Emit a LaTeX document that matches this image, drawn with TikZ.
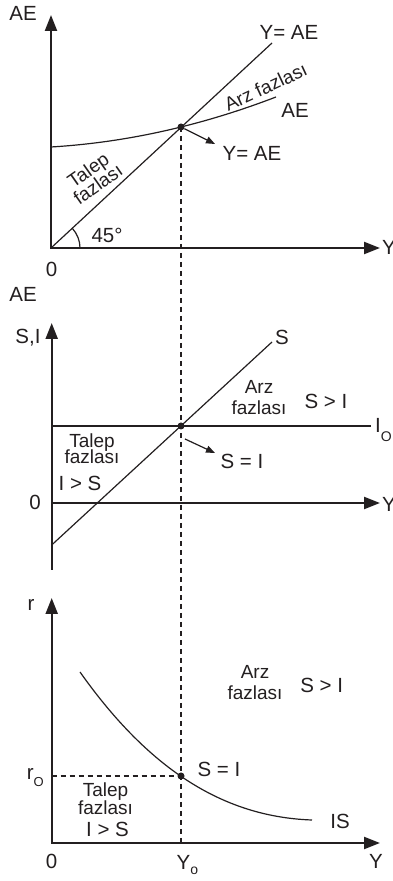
\documentclass[tikz,border=0pt]{standalone}
\usepackage{fontspec}
\setmainfont{Liberation Sans}
\usetikzlibrary{arrows.meta, positioning}
\definecolor{inkblack}{RGB}{35,31,32}
\setlength{\lineskiplimit}{-20pt}
\tikzset{
  axes/.style={{Triangle[length=16pt,width=12pt]}-{Triangle[length=16pt,width=12pt]},
    line width=2.2pt, color=inkblack},
  axis/.style={-{Triangle[length=16pt,width=12pt]}, line width=2.2pt, color=inkblack},
  curve/.style={line width=1.2pt, color=inkblack},
  level/.style={line width=1.8pt, color=inkblack},
  guide/.style={dash pattern=on 5pt off 4pt, line width=1.2pt, color=inkblack},
  pointer/.style={-{Triangle[length=9pt,width=7pt]}, line width=1.2pt, color=inkblack},
  eqdot/.style={circle, fill=inkblack, inner sep=0pt, minimum size=7pt},
  lbl/.style={inner sep=0pt, text=inkblack, font=\fontsize{20.5}{22}\selectfont},
  note/.style={inner sep=0pt, text=inkblack, align=center, font=\fontsize{19}{18}\selectfont}
}

\begin{document}
\begin{tikzpicture}[x=1pt, y=1pt]
  \useasboundingbox (0,0) rectangle (393,881);

  % Top panel: AE against Y
  \coordinate (O1) at (51,633);
  \coordinate (ae_tip) at (51,866);
  \coordinate (y1_tip) at (380,633);
  \draw[axes] (ae_tip) -- (O1) -- (y1_tip);
  \node[lbl] (ae1) at (23,868) {AE};
  \node[lbl, anchor=west] (y1) at (382,634) {Y};
  \node[lbl] (zero1) at (51.5,612) {0};

  % 45 degree line and AE curve
  \node[eqdot] (E1) at (181,754) {};
  \coordinate (l45_end) at (272,838);
  \coordinate (ae_start) at (51,734);
  \coordinate (ae_end) at (276,784);
  \draw[curve] (O1) -- (l45_end);
  \draw[curve] (ae_start) .. controls (126,738.5) and (201,755.2) .. (ae_end);
  \draw[curve] ([xshift=29pt]O1) arc[start angle=0, end angle=42.6, radius=29pt];
  \node[lbl] (deg) at (107,646) {45°};

  \node[lbl] (yae_top) at (289,849) {Y= AE};
  \node[lbl] (ae_curve) at (295,771) {AE};
  \node[note, rotate=25] (arz1) at (265.7,794) {Arz fazlası};
  \node[note, rotate=35, font=\fontsize{19}{17}\selectfont] (talep1) at (93,704) {Talep\\fazlası};

  \coordinate (tip1) at (215,737);
  \draw[pointer] (E1) -- (tip1);
  \node[lbl] (yae_mid) at (252,728) {Y= AE};

  % Middle panel: S and I against Y
  \node[lbl] (ae2) at (23,587) {AE};
  \coordinate (O2) at (51.7,378);
  \coordinate (si_low) at (51.7,311);
  \coordinate (si_tip) at (51.7,558);
  \coordinate (y2_tip) at (380,378);
  \draw[axis] (si_low) -- (si_tip);
  \draw[axis] (O2) -- (y2_tip);
  \node[lbl, anchor=base] (si) at (28,537) {S,I};
  \node[lbl] (zero2) at (35,378.5) {0};
  \node[lbl, anchor=west] (y2) at (382,377) {Y};

  \node[eqdot] (E2) at (181,455) {};
  \coordinate (io_start) at (51.7,455);
  \coordinate (io_end) at (371,455);
  \draw[level] (io_start) -- (io_end);
  \node[lbl, anchor=base west] (io) at (375,448) {I\raisebox{-9pt}{\fontsize{14}{14}\selectfont O}};

  \coordinate (s_start) at (51.7,336);
  \coordinate (s_end) at (272,539);
  \draw[curve] (s_start) -- (s_end);
  \node[lbl] (s_lbl) at (282,543.5) {S};

  \coordinate (from2) at (185,442);
  \coordinate (tip2) at (215,428);
  \draw[pointer] (from2) -- (tip2);
  \node[lbl] (seqi2) at (242,420) {S = I};

  \node[note, font=\fontsize{19}{21.7}\selectfont] (arz2) at (259,483.5) {Arz\\fazlası};
  \node[lbl] (sgi2) at (326,480) {S > I};
  \node[note, font=\fontsize{19}{16}\selectfont] (talep2) at (92,432) {Talep\\fazlası};
  \node[lbl] (igs2) at (80,397.7) {I > S};

  % Bottom panel: IS curve
  \coordinate (O3) at (51.7,38);
  \coordinate (r_tip) at (51.7,283);
  \coordinate (y3_tip) at (380,38);
  \draw[axes] (r_tip) -- (O3) -- (y3_tip);
  \node[lbl] (r_lbl) at (31,276) {r};
  \node[lbl] (zero3) at (51.7,19.3) {0};
  \node[lbl] (y3) at (376,19.3) {Y};

  \node[eqdot] (E3) at (181,105) {};
  \coordinate (is_start) at (80,209);
  \coordinate (is_end) at (312,61);
  \draw[curve] (is_start) .. controls (150,110) and (225,64) .. (is_end);
  \node[lbl] (is_lbl) at (340,60) {IS};

  \coordinate (ro_start) at (51.7,105);
  \draw[guide] (ro_start) -- (E3.center);
  \node[lbl, anchor=base west] (ro) at (26.7,101) {r\raisebox{-7pt}{\fontsize{13}{13}\selectfont O}};

  \coordinate (yo_foot) at (181,38);
  \draw[guide] (E1.center) -- (yo_foot);
  \node[lbl, anchor=base west] (yo) at (176.5,11) {Y\raisebox{-5pt}{\fontsize{14}{14}\selectfont o}};

  \node[lbl] (seqi3) at (219,112) {S = I};
  \node[note, font=\fontsize{19}{21.7}\selectfont] (arz3) at (255,198.5) {Arz\\fazlası};
  \node[lbl] (sgi3) at (321.7,195.5) {S > I};
  \node[note] (talep3) at (105.5,82.3) {Talep\\fazlası};
  \node[lbl] (igs3) at (107.5,51.8) {I > S};
\end{tikzpicture}
\end{document}
